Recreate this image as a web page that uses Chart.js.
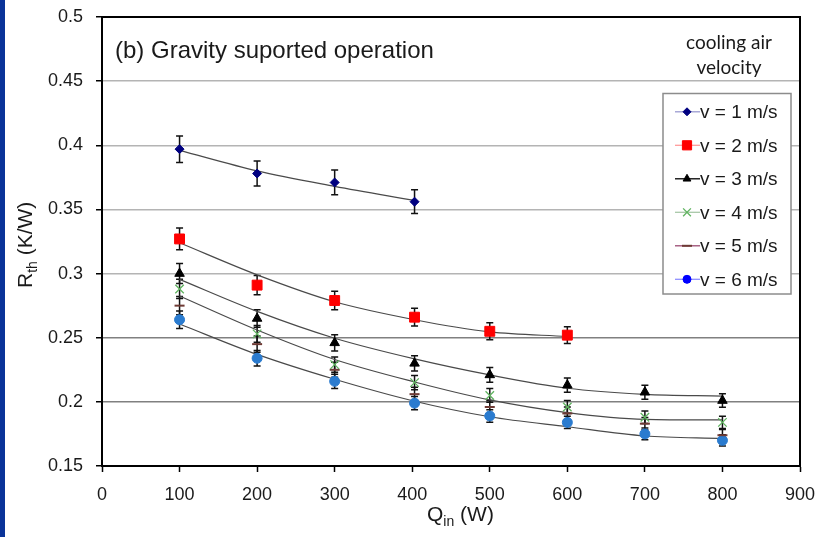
<!DOCTYPE html>
<html><head><meta charset="utf-8">
<script src="https://cdn.jsdelivr.net/npm/chart.js@4.4.1/dist/chart.umd.min.js"></script>
<style>
html,body{margin:0;padding:0;background:#fff;}
#wrap{position:relative;width:818px;height:537px;overflow:hidden;background:#fff;}
#strip{position:absolute;left:0;top:0;width:5px;height:537px;background:#0a3399;}
canvas{position:absolute;left:0;top:0;}
</style></head><body>
<div id="wrap"><canvas id="c" width="818" height="537"></canvas><div id="strip"></div></div>
<script>
// ---- data ----
const Q_IN = [100, 200, 300, 403, 500, 600, 700, 800];
const R_V1 = [0.397, 0.378, 0.371, 0.356];
const R_V2 = [0.327, 0.291, 0.279, 0.266, 0.255, 0.252];
const R_V3 = [0.300, 0.265, 0.246, 0.230, 0.221, 0.213, 0.2075, 0.201];
const R_V4 = [0.288, 0.253, 0.229, 0.215, 0.205, 0.196, 0.188, 0.184];
const R_V5 = [0.275, 0.245, 0.225, 0.206, 0.196, 0.191, 0.183, 0.174];
const R_V6 = [0.264, 0.234, 0.216, 0.199, 0.189, 0.184, 0.175, 0.170];
// trend curves
const FIT_V1 = [0.396, 0.380, 0.368, 0.357];
const FIT_V2 = [0.324, 0.299, 0.278, 0.264, 0.2545, 0.251];
const FIT_V3 = [0.2955, 0.2705, 0.2496, 0.2335, 0.221, 0.2106, 0.2059, 0.2045];
const FIT_V45 = [0.2825, 0.256, 0.233, 0.2155, 0.2015, 0.1916, 0.1864, 0.1859];
const FIT_V6 = [0.2607, 0.237, 0.2176, 0.2005, 0.1884, 0.1806, 0.1734, 0.1716];
const ERROR_FRACTION = 0.026; // percentage error bars
const SERIES_LABELS = ['v = 1 m/s', 'v = 2 m/s', 'v = 3 m/s', 'v = 4 m/s', 'v = 5 m/s', 'v = 6 m/s'];
const X_TICKS = [0, 100, 200, 300, 400, 500, 600, 700, 800, 900];
const Y_TICKS = [0.15, 0.2, 0.25, 0.3, 0.35, 0.4, 0.45, 0.5];
const TITLE = '(b) Gravity suported operation';
const NOTE = ['cooling air', 'velocity'];

const FONT = '"Liberation Sans", Arial, sans-serif';
const pts = (ys) => ys.map((y, i) => ({x: Q_IN[i], y}));

const styles = [
  {ps: 'rectRot', r: 4.5, c: '#000080', lc: '#9a9ad0', lr: 4},
  {ps: 'rect', r: 7, c: '#ff0000', lc: '#ff9a9a', lr: 6.5},
  {ps: 'triangle', r: 5.5, c: '#000000', lc: '#000000', lr: 4.5},
  {ps: 'crossRot', r: 6, c: '#5fb35f', lc: '#a8c8a8', lr: 5.5, bw: 1.3},
  {ps: 'line', r: 5, c: '#6e3a34', lc: '#9a4a72', lr: 5, bw: 2},
  {ps: 'circle', r: 5, c: '#2a7bcf', lc: '#8f8fff', lr: 4, lcm: '#0000ff'}
];
const seriesData = [R_V1, R_V2, R_V3, R_V4, R_V5, R_V6];
const fitData = [FIT_V1, FIT_V2, FIT_V3, FIT_V45, FIT_V6];

const datasets = [];
seriesData.forEach((d, i) => {
  const s = styles[i];
  datasets.push({
    label: SERIES_LABELS[i], data: pts(d), showLine: false,
    pointStyle: s.ps, pointRadius: s.r, pointBorderWidth: s.bw || 1,
    backgroundColor: s.c, borderColor: s.c, errorBars: true, order: 1
  });
});
fitData.forEach((d) => {
  datasets.push({
    label: 'fit', data: pts(d), showLine: true, fill: false, pointRadius: 0,
    borderColor: '#4a4a4a', borderWidth: 1.2, cubicInterpolationMode: 'monotone', order: 10, isFit: true
  });
});

const errorBarPlugin = {
  id: 'errbars',
  beforeDatasetsDraw(chart) {
    const ctx = chart.ctx, xs = chart.scales.x, ys = chart.scales.y;
    ctx.save(); ctx.strokeStyle = '#111'; ctx.lineWidth = 1.5;
    chart.data.datasets.forEach(ds => {
      if (!ds.errorBars) return;
      ds.data.forEach(p => {
        const e = p.y * ERROR_FRACTION;
        const x = xs.getPixelForValue(p.x);
        const y1 = ys.getPixelForValue(p.y + e), y2 = ys.getPixelForValue(p.y - e);
        ctx.beginPath();
        ctx.moveTo(x, y1); ctx.lineTo(x, y2);
        ctx.moveTo(x - 3.5, y1); ctx.lineTo(x + 3.5, y1);
        ctx.moveTo(x - 3.5, y2); ctx.lineTo(x + 3.5, y2);
        ctx.stroke();
      });
    });
    ctx.restore();
  }
};

const textPlugin = {
  id: 'texts',
  afterDraw(chart) {
    const ctx = chart.ctx, a = chart.chartArea;
    ctx.save();
    // top/right frame
    ctx.strokeStyle = '#000'; ctx.lineWidth = 2;
    ctx.beginPath(); ctx.moveTo(a.left - 1, a.top); ctx.lineTo(a.right, a.top); ctx.lineTo(a.right, a.bottom + 1); ctx.stroke();
    ctx.fillStyle = '#1a1a1a'; ctx.textAlign = 'left'; ctx.textBaseline = 'alphabetic';
    // title
    ctx.font = '24px ' + FONT;
    ctx.fillText(TITLE, 115, 58);
    // note
    ctx.font = '19px Lato, "Open Sans", sans-serif'; ctx.textAlign = 'center';
    ctx.fillText(NOTE[0], 729, 49);
    ctx.fillText(NOTE[1], 729, 74);
    ctx.textAlign = 'left';
    // x axis title Q_in (W)
    let x = 427;
    ctx.font = '21px ' + FONT; ctx.fillText('Q', x, 521); x += ctx.measureText('Q').width;
    ctx.font = '14px ' + FONT; ctx.fillText('in', x, 526); x += ctx.measureText('in').width;
    ctx.font = '21px ' + FONT; ctx.fillText(' (W)', x, 521);
    // y axis title R_th (K/W)
    ctx.save(); ctx.translate(32, 288); ctx.rotate(-Math.PI / 2);
    x = 0;
    ctx.font = '21px ' + FONT; ctx.fillText('R', x, 0); x += ctx.measureText('R').width;
    ctx.font = '14px ' + FONT; ctx.fillText('th', x, 5); x += ctx.measureText('th').width;
    ctx.font = '21px ' + FONT; ctx.fillText(' (K/W)', x, 0);
    ctx.restore();
    // legend
    const L = {l: 663, t: 93.5, r: 791, b: 294};
    ctx.fillStyle = '#fff'; ctx.fillRect(L.l, L.t, L.r - L.l, L.b - L.t);
    ctx.strokeStyle = '#8c8c8c'; ctx.lineWidth = 1.5; ctx.strokeRect(L.l, L.t, L.r - L.l, L.b - L.t);
    ctx.font = '19px ' + FONT;
    SERIES_LABELS.forEach((lab, i) => {
      const s = styles[i];
      const base = 118.3 + i * 33.5, my = base - 6.5;
      ctx.strokeStyle = s.lc; ctx.lineWidth = 1.3;
      ctx.beginPath(); ctx.moveTo(675, my); ctx.lineTo(700, my); ctx.stroke();
      const mc = s.lcm || s.c;
      ctx.fillStyle = mc; ctx.strokeStyle = mc; ctx.lineWidth = s.bw || 1;
      Chart.helpers.drawPoint(ctx, {pointStyle: s.ps, radius: s.lr, rotation: 0, borderWidth: s.bw || 1}, 687, my);
      ctx.fillStyle = '#1a1a1a';
      ctx.fillText(lab, 700, base);
    });
    ctx.restore();
  }
};

new Chart(document.getElementById('c'), {
  type: 'scatter',
  data: {datasets},
  options: {
    responsive: false, animation: false, devicePixelRatio: 1, events: [],
    layout: {padding: {left: 0, top: 17, right: 18, bottom: 0}},
    plugins: {legend: {display: false}, tooltip: {enabled: false}, title: {display: false}},
    scales: {
      x: {
        type: 'linear', min: 0, max: 900,
        afterBuildTicks: (s) => { s.ticks = X_TICKS.map(v => ({value: v})); },
        ticks: {font: {family: FONT, size: 18}, color: '#1a1a1a', padding: 12, maxRotation: 0},
        grid: {drawOnChartArea: false, drawTicks: true, tickLength: 6, tickColor: '#000', tickWidth: 1.5},
        border: {color: '#000', width: 2},
        afterFit: (s) => { s.height = 71; s.paddingLeft = 0; s.paddingRight = 0; }
      },
      y: {
        min: 0.15, max: 0.5,
        afterBuildTicks: (s) => { s.ticks = Y_TICKS.map(v => ({value: v})); },
        ticks: {font: {family: FONT, size: 18}, color: '#1a1a1a', padding: 13,
          callback: (v) => String(parseFloat(Number(v).toFixed(2)))},
        grid: {
          color: (c) => (c.tick && (Math.abs(c.tick.value - 0.25) < 1e-6 || Math.abs(c.tick.value - 0.2) < 1e-6)) ? '#808080' : '#b4b4b4',
          lineWidth: 1.5, tickLength: 6, tickColor: '#000', tickWidth: 1.5
        },
        border: {color: '#000', width: 2},
        afterFit: (s) => { s.width = 102; s.paddingTop = 0; s.paddingBottom = 0; }
      }
    }
  },
  plugins: [errorBarPlugin, textPlugin]
});
</script></body></html>
